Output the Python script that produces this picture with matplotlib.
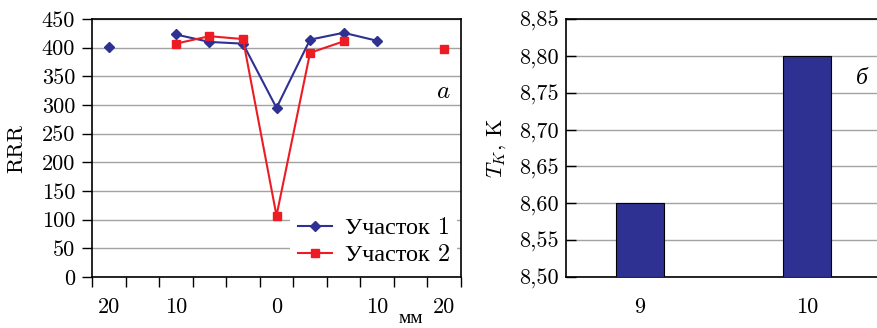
import numpy as np
import matplotlib
matplotlib.use('Agg')
import matplotlib.pyplot as plt

plt.rcParams['font.family'] = ['cmr10', 'Liberation Serif']
plt.rcParams['mathtext.fontset'] = 'cm'
plt.rcParams['axes.formatter.use_mathtext'] = True
plt.rcParams['axes.unicode_minus'] = False

# ---- data: panel a ----
positions = list(range(11))
site1 = [401, np.nan, 423, 410, 407, 295, 414, 426, 412, np.nan, np.nan]
site2 = [np.nan, np.nan, 407, 420, 415, 107, 391, 411, np.nan, np.nan, 398]
dist_label_pos = [0, 2, 5, 8, 10]
dist_labels = ['20', '10', '0', '10', '20']
rrr_ticks = [0, 50, 100, 150, 200, 250, 300, 350, 400, 450]
series_names = ['Участок 1', 'Участок 2']

# ---- data: panel б ----
samples = ['9', '10']
tc_values = [8.60, 8.80]
tc_ticks = [8.50, 8.55, 8.60, 8.65, 8.70, 8.75, 8.80, 8.85]

W, H = 877, 328
fig = plt.figure(figsize=(W / 100, H / 100), dpi=100)
FS = 16
grid_c = '#A3A3A3'
blue = '#2E3192'
red = '#ED1C24'

# ---------- panel a ----------
ax1 = fig.add_axes([92 / W, 51 / H, 369 / W, 258 / H])
ax1.set_xlim(-0.5, 10.5)
ax1.set_ylim(0, 450)
ax1.plot(positions, site1, color=blue, marker='D', ms=5.5, lw=1.5, label=series_names[0])
ax1.plot(positions, site2, color=red, marker='s', ms=5.5, lw=1.5, label=series_names[1])
ax1.set_xticks(np.arange(-0.5, 11, 1))
ax1.set_xticklabels([])
ax1.set_xticks(dist_label_pos, minor=True)
ax1.set_xticklabels(dist_labels, minor=True)
ax1.tick_params(axis='x', which='major', direction='out', length=7.2, width=1)
ax1.tick_params(axis='x', which='minor', length=0, pad=15, labelsize=FS)
ax1.set_yticks(rrr_ticks)
ax1.set_yticklabels([str(v) for v in rrr_ticks])
ax1.tick_params(axis='y', direction='out', length=7.2, width=1, pad=5, labelsize=FS)
ax1.yaxis.grid(True, color=grid_c, lw=1)
ax1.set_axisbelow(True)
for s in ax1.spines.values():
    s.set_linewidth(1.2)
leg = ax1.legend(loc='lower right', bbox_to_anchor=(1.0, 0.0), frameon=True,
                 fontsize=17.5, handlelength=1.4, handletextpad=0.55,
                 labelspacing=0.2, borderaxespad=0.15, borderpad=0.3)
leg.get_frame().set_edgecolor('none')
leg.get_frame().set_facecolor('white')
leg.get_frame().set_alpha(1)
leg.get_frame().set_boxstyle('square', pad=0)
ax1.text((443 - 92) / 369, (277 - 92) / 258, '$a$', transform=ax1.transAxes,
         ha='center', va='center', fontsize=FS + 2)
fig.text(17 / W, 1 - 148 / H, 'RRR', rotation=90, ha='center', va='center', fontsize=FS)
fig.text(411 / W, 1 - 318 / H, 'мм', ha='center', va='center', fontsize=FS - 2)

# ---------- panel б ----------
ax2 = fig.add_axes([566 / W, 51 / H, (877 - 566) / W, 258 / H])
xb = np.arange(len(samples))
ax2.bar(xb, np.array(tc_values) - tc_ticks[0], bottom=tc_ticks[0], width=0.287,
        color=blue, edgecolor='black', lw=0.8, zorder=3)
ax2.set_xlim(-0.443, 1.419)
ax2.set_ylim(tc_ticks[0], tc_ticks[-1])
ax2.set_xticks(xb)
ax2.set_xticklabels(samples)
ax2.tick_params(axis='x', length=0, pad=15, labelsize=FS)
ax2.set_yticks(tc_ticks)
ax2.set_yticklabels([f'{v:.2f}'.replace('.', ',') for v in tc_ticks])
ax2.tick_params(axis='y', direction='in', length=7.2, width=1, pad=5, labelsize=FS)
ax2.yaxis.grid(True, color=grid_c, lw=1)
ax2.set_axisbelow(True)
ax2.spines['right'].set_visible(False)
for s in ax2.spines.values():
    s.set_linewidth(1.2)
ax2.text((862 - 566) / 311, (277 - 78) / 258, 'б', transform=ax2.transAxes,
         ha='center', va='center', fontsize=FS + 1, style='italic', family='Liberation Serif')
fig.text(497 / W, 1 - 148 / H, '$T_K$, K', rotation=90, ha='center', va='center', fontsize=FS)

fig.savefig('out.png', dpi=100)
